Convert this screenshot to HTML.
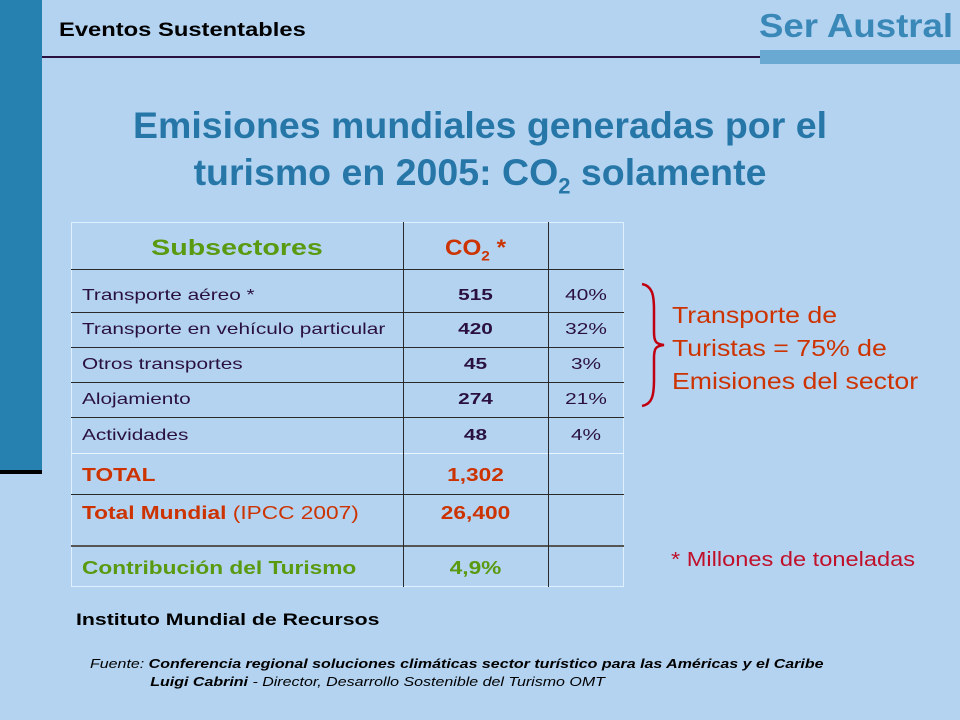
<!DOCTYPE html>
<html><head><meta charset="utf-8"><style>
body{margin:0;width:960px;height:720px;background:#b3d3f1;position:relative;overflow:hidden;font-family:"Liberation Sans",Arial,sans-serif}
.a{position:absolute;white-space:nowrap;transform-origin:left center}
.cell{position:absolute;font-size:16px;color:#2a1040;white-space:nowrap;transform-origin:left center;transform:scaleX(1.3)}
.c{text-align:center;transform-origin:center center!important}
.hl{position:absolute;height:1px;background:#2a2a2a}
.vl{position:absolute;width:1px;background:#2a2a2a}
.b{font-weight:bold}
.red{color:#cc3300}.grn{color:#5a9a10}
.big{font-size:18px;transform:scaleX(1.26)}
</style></head><body>
<div class="a" style="left:0;top:0;width:42px;height:470px;background:#2680b0"></div>
<div class="a" style="left:0;top:470px;width:42px;height:4px;background:#000"></div>
<div class="a" style="left:42px;top:56px;width:918px;height:2px;background:#2a1040"></div>
<div class="a" style="left:760px;top:50px;width:200px;height:14px;background:#6aa9d2"></div>
<div class="a b" style="left:59px;top:20px;font-size:19px;color:#000;transform:scaleX(1.25)">Eventos Sustentables</div>
<div class="a b" style="left:759px;top:7px;font-size:33px;color:#3a88b8;transform:scaleX(1.11)">Ser Austral</div>
<div class="a b" style="left:80px;width:800px;top:102px;font-size:37.5px;line-height:47px;color:#2677a8;white-space:normal;text-align:center">Emisiones mundiales generadas por el turismo en 2005: CO<sub style="font-size:22px">2</sub> solamente</div>

<div>
<div class="a" style="left:71px;top:222px;width:553px;height:365px;border:1px solid #dff0ff;box-sizing:border-box"></div>
<div class="hl" style="left:71px;width:553px;top:269px"></div>
<div class="hl" style="left:71px;width:553px;top:312px"></div>
<div class="hl" style="left:71px;width:553px;top:347px"></div>
<div class="hl" style="left:71px;width:553px;top:382px"></div>
<div class="hl" style="left:71px;width:553px;top:417px"></div>
<div class="hl" style="left:71px;width:553px;top:453px;background:#e8f4ff"></div>
<div class="hl" style="left:71px;width:553px;top:494px"></div>
<div class="hl" style="left:71px;width:553px;top:545px;height:2px;background:#555"></div>
<div class="vl" style="left:403px;top:222px;height:365px"></div>
<div class="vl" style="left:548px;top:222px;height:365px"></div>

<div class="cell b c grn" style="left:71px;width:332px;top:235px;font-size:22px;transform:scaleX(1.3)">Subsectores</div>
<div class="cell b c red" style="left:403px;width:145px;top:235px;font-size:22px;transform:scaleX(1.1)">CO<sub style="font-size:14px">2</sub> *</div>

<div class="cell" style="left:82px;top:287px">Transporte aéreo *</div>
<div class="cell b c" style="left:403px;width:145px;top:287px">515</div>
<div class="cell c" style="left:548px;width:76px;top:287px">40%</div>

<div class="cell" style="left:82px;top:321px">Transporte en vehículo particular</div>
<div class="cell b c" style="left:403px;width:145px;top:321px">420</div>
<div class="cell c" style="left:548px;width:76px;top:321px">32%</div>

<div class="cell" style="left:82px;top:356px">Otros transportes</div>
<div class="cell b c" style="left:403px;width:145px;top:356px">45</div>
<div class="cell c" style="left:548px;width:76px;top:356px">3%</div>

<div class="cell" style="left:82px;top:391px">Alojamiento</div>
<div class="cell b c" style="left:403px;width:145px;top:391px">274</div>
<div class="cell c" style="left:548px;width:76px;top:391px">21%</div>

<div class="cell" style="left:82px;top:427px">Actividades</div>
<div class="cell b c" style="left:403px;width:145px;top:427px">48</div>
<div class="cell c" style="left:548px;width:76px;top:427px">4%</div>

<div class="cell b red big" style="left:82px;top:465px">TOTAL</div>
<div class="cell b c red big" style="left:403px;width:145px;top:465px">1,302</div>

<div class="cell red big" style="left:82px;top:503px"><b>Total Mundial</b> (IPCC 2007)</div>
<div class="cell b c red big" style="left:403px;width:145px;top:503px">26,400</div>

<div class="cell b grn big" style="left:82px;top:558px">Contribución del Turismo</div>
<div class="cell b c grn big" style="left:403px;width:145px;top:558px">4,9%</div>
</div>

<svg class="a" style="left:636px;top:280px" width="32" height="130"><path d="M6 4 C16 6 18 14 18 30 L18 52 C18 62 20 64 28 65 C20 66 18 68 18 78 L18 100 C18 116 16 124 6 126" fill="none" stroke="#c00010" stroke-width="2.5"/></svg>
<div class="a red" style="left:672px;top:299px;font-size:23px;line-height:33px;transform:scaleX(1.16)">Transporte de<br>Turistas = 75% de<br>Emisiones del sector</div>
<div class="a" style="left:671px;top:549px;font-size:20px;color:#c0102a;transform:scaleX(1.18)">* Millones de toneladas</div>
<div class="a b" style="left:76px;top:610px;font-size:17px;color:#000;transform:scaleX(1.25)">Instituto Mundial de Recursos</div>
<div class="a" style="left:90px;top:655px;font-size:13px;line-height:18px;font-style:italic;color:#000;transform:scaleX(1.23)">Fuente: <b>Conferencia regional soluciones climáticas sector turístico para las Américas y el Caribe</b><br><span style="padding-left:49px"><b>Luigi Cabrini</b> - Director, Desarrollo Sostenible del Turismo OMT</span></div>
</body></html>
